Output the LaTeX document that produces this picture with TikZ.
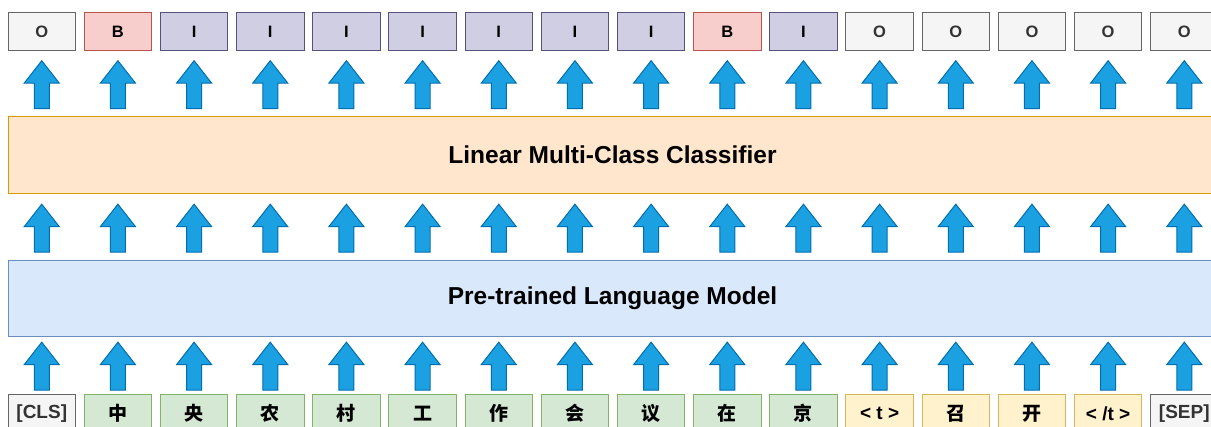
\documentclass[tikz,border=0pt]{standalone}
\usepackage{fontspec}
\setmainfont{Liberation Sans}
\newfontfamily\cjk{Noto Sans CJK SC}
\usetikzlibrary{shapes.arrows}

\definecolor{otagfill}{HTML}{F5F5F5}
\definecolor{otagline}{HTML}{666666}
\definecolor{btagfill}{HTML}{F8CECC}
\definecolor{btagline}{HTML}{B85450}
\definecolor{itagfill}{HTML}{D0CEE2}
\definecolor{itagline}{HTML}{56517E}
\definecolor{wordfill}{HTML}{D5E8D4}
\definecolor{wordline}{HTML}{82B366}
\definecolor{markfill}{HTML}{FFF2CC}
\definecolor{markline}{HTML}{D6B656}
\definecolor{clffill}{HTML}{FFE6CC}
\definecolor{clfline}{HTML}{D79B00}
\definecolor{plmfill}{HTML}{DAE8FC}
\definecolor{plmline}{HTML}{6C8EBF}
\definecolor{arrfill}{HTML}{1BA1E2}
\definecolor{arrline}{HTML}{006EAF}
\definecolor{darktext}{HTML}{333333}

\begin{document}
\begin{tikzpicture}[x=1pt,y=-1pt]
  \tikzstyle{every node}+=[inner sep=0pt]
  \tikzstyle{box}=[draw, line width=0.8pt, minimum width=67.5pt, minimum height=38.5pt]
  \tikzstyle{otag}=[box, fill=otagfill, draw=otagline, text=darktext]
  \tikzstyle{btag}=[box, fill=btagfill, draw=btagline]
  \tikzstyle{itag}=[box, fill=itagfill, draw=itagline]
  \tikzstyle{clstag}=[box, fill=otagfill, draw=otagline, text=darktext]
  \tikzstyle{word}=[box, fill=wordfill, draw=wordline]
  \tikzstyle{marker}=[box, fill=markfill, draw=markline]
  \tikzstyle{layer}=[draw, line width=0.8pt, minimum width=1209pt, minimum height=76.5pt,
    font=\bfseries\fontsize{24.5}{26}\selectfont]
  \tikzstyle{uparr}=[single arrow, shape border rotate=90, draw=arrline, fill=arrfill,
    line width=1pt, inner sep=7pt, minimum height=48pt,
    single arrow head extend=10pt, single arrow tip angle=76]

  \useasboundingbox (0,0) rectangle (1211,427);
  \clip (0,0) rectangle (1211,427);

  % output tags
  \foreach \lab/\sty [count=\i from 0] in {O/otag, B/btag, I/itag, I/itag, I/itag, I/itag,
      I/itag, I/itag, I/itag, B/btag, I/itag, O/otag, O/otag, O/otag, O/otag, O/otag}
    \node [\sty, font=\bfseries\fontsize{16.5}{18}\selectfont] (tag\i) at (41.75+76.17*\i,31.5) {\lab};

  % arrows
  \foreach \i in {0,...,15} {
    \node [uparr] (up\i) at (41.75+76.17*\i,89.5) {};
    \node [uparr] (mid\i) at (41.75+76.17*\i,233) {};
    \node [uparr] (low\i) at (41.75+76.17*\i,371) {};
  }

  % layers
  \node [layer, fill=clffill, draw=clfline] (clf) at (612.5,155) {Linear Multi-Class Classifier};
  \node [layer, fill=plmfill, draw=plmline] (plm) at (612.5,298.5) {Pre-trained Language Model};

  % input tokens
  \foreach \lab/\sty [count=\i from 0] in {{[CLS]}/clstag, {\cjk 中}/word, {\cjk 央}/word,
      {\cjk 农}/word, {\cjk 村}/word, {\cjk 工}/word, {\cjk 作}/word, {\cjk 会}/word,
      {\cjk 议}/word, {\cjk 在}/word, {\cjk 京}/word, {< t >}/marker, {\cjk 召}/marker,
      {\cjk 开}/marker, {< /t >}/marker, {[SEP]}/clstag}
    \node [\sty, font=\bfseries\fontsize{19}{20}\selectfont] (tok\i) at (41.75+76.17*\i,413.5) {\lab};
\end{tikzpicture}
\end{document}
